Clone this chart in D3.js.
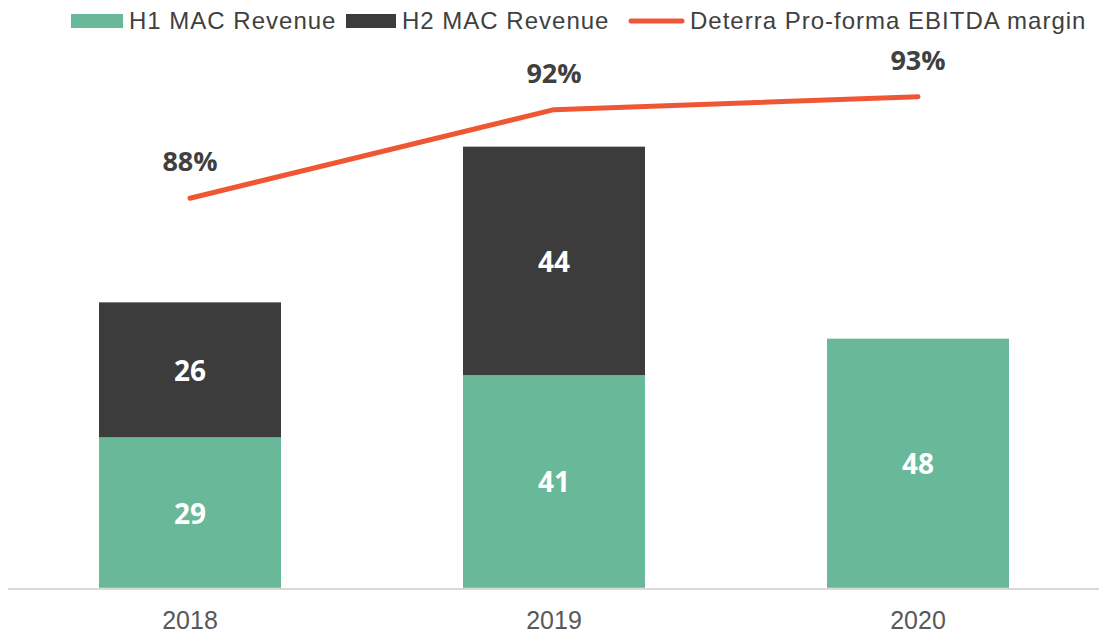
<!DOCTYPE html>
<html>
<head>
<meta charset="utf-8">
<script src="https://cdn.jsdelivr.net/npm/d3@7"></script>
<style>
  html, body { margin: 0; padding: 0; background: #ffffff; }
  svg { display: block; }
</style>
</head>
<body>
<svg id="chart" width="1099" height="633"></svg>
<script>
// ---- data ----
const years = ["2018", "2019", "2020"];
const h1Revenue = [29, 41, 48];
const h2Revenue = [26, 44, 0];
const ebitdaMargin = [88.0, 92.1, 92.7];
const seriesNames = ["H1 MAC Revenue", "H2 MAC Revenue", "Deterra Pro-forma EBITDA margin"];

// ---- styles ----
const GREEN = "#68b899";
const DARK = "#3c3c3c";
const ORANGE = "#ef5734";

const svg = d3.select("#chart");

const x = d3.scaleBand().domain(years).range([8, 1100]).paddingInner(0.5).paddingOuter(0.25);
const y = d3.scaleLinear().domain([0, 100]).range([587.8, 68.8]);
const y2 = d3.scaleLinear().domain([70, 100]).range([587, -61]);

const rows = years.map((yr, i) => ({ year: yr, h1: h1Revenue[i], h2: h2Revenue[i], m: ebitdaMargin[i] }));
const stack = d3.stack().keys(["h1", "h2"])(rows);
const colors = { h1: GREEN, h2: DARK };

// bars
const layers = svg.append("g").selectAll("g").data(stack).join("g").attr("fill", d => colors[d.key]);
layers.selectAll("rect").data(d => d.filter(s => s[1] - s[0] > 0)).join("rect")
  .attr("x", d => x(d.data.year))
  .attr("width", x.bandwidth())
  .attr("y", d => y(d[1]))
  .attr("height", d => y(d[0]) - y(d[1]));

// bar labels
layers.selectAll("text").data(d => d.filter(s => s[1] - s[0] > 0)).join("text")
  .attr("x", d => x(d.data.year) + x.bandwidth() / 2)
  .attr("y", d => (y(d[0]) + y(d[1])) / 2 + 1)
  .attr("dy", "0.36em")
  .attr("text-anchor", "middle")
  .attr("fill", "#ffffff")
  .style("font-family", "'Open Sans', sans-serif")
  .style("font-weight", 700)
  .style("font-size", "28px")
  .text(d => d[1] - d[0]);

// x axis
const xAxis = svg.append("g")
  .attr("transform", "translate(0,589)")
  .call(d3.axisBottom(x).tickSize(0).tickPadding(22));
xAxis.select(".domain").attr("stroke", "#d9d9d9").attr("stroke-width", 2).attr("d", "M8,0H1099");
xAxis.selectAll("text")
  .attr("fill", "#595959")
  .style("font-family", "'Liberation Sans', Arial, sans-serif")
  .style("font-size", "25px");

// line
const line = d3.line().x(d => x(d.year) + x.bandwidth() / 2).y(d => y2(d.m));
svg.append("path").datum(rows)
  .attr("d", line)
  .attr("fill", "none")
  .attr("stroke", ORANGE)
  .attr("stroke-width", 5)
  .attr("stroke-linecap", "round")
  .attr("stroke-linejoin", "round");

svg.append("g").selectAll("text").data(rows).join("text")
  .attr("x", d => x(d.year) + x.bandwidth() / 2)
  .attr("y", d => y2(d.m) - 27)
  .attr("text-anchor", "middle")
  .attr("fill", "#404040")
  .style("font-family", "'Open Sans', sans-serif")
  .style("font-weight", 700)
  .style("font-size", "27px")
  .text(d => Math.round(d.m) + "%");

// legend
const legend = svg.append("g")
  .style("font-family", "'Liberation Sans', Arial, sans-serif")
  .style("font-size", "24px")
  .style("letter-spacing", "1px")
  .attr("fill", "#404040");
const legendItems = [
  { name: seriesNames[0], type: "rect", color: GREEN, x0: 71, x1: 123, tx: 129 },
  { name: seriesNames[1], type: "rect", color: DARK, x0: 346, x1: 396, tx: 402 },
  { name: seriesNames[2], type: "line", color: ORANGE, x0: 631, x1: 682, tx: 690 }
];
legendItems.forEach(it => {
  if (it.type === "rect") {
    legend.append("rect").attr("x", it.x0).attr("y", 14).attr("width", it.x1 - it.x0).attr("height", 14).attr("fill", it.color);
  } else {
    legend.append("line").attr("x1", it.x0).attr("x2", it.x1).attr("y1", 21).attr("y2", 21)
      .attr("stroke", it.color).attr("stroke-width", 5).attr("stroke-linecap", "round");
  }
  legend.append("text").attr("x", it.tx).attr("y", 29).text(it.name);
});
</script>
</body>
</html>
